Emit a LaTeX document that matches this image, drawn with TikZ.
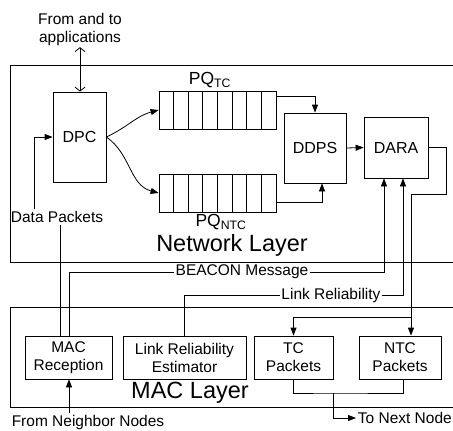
\documentclass[tikz,border=0pt]{standalone}
\usepackage{fontspec}
\setmainfont{Liberation Sans}
\usetikzlibrary{arrows.meta}

\begin{document}
\begin{tikzpicture}[x=1pt,y=-1pt,line width=0.8pt,
  box/.style={draw,inner sep=0pt,align=center,font=\fontsize{16}{18}\selectfont},
  lbl/.style={inner sep=1.5pt,align=center,font=\fontsize{15.5}{18}\selectfont},
  layer/.style={inner sep=0pt,font=\fontsize{23.5}{26}\selectfont},
  arr/.style={-{Triangle[length=8pt,width=6pt]}}]
\useasboundingbox (0,0) rectangle (453,431);
\clip (0,0) rectangle (453,431);
% layers
\draw (10,65) rectangle (470,262);
\draw (10,307) rectangle (470,407);
\node[layer] (netname) at (232,245) {Network Layer};
\node[layer] (macname) at (190,393) {MAC Layer};
% network layer blocks
\node[box,minimum width=53pt,minimum height=90pt] (dpc) at (79.5,137) {DPC};
\node[draw,inner sep=0pt,minimum width=117pt,minimum height=38pt] (pqtc) at (217.5,110) {};
\node[draw,inner sep=0pt,minimum width=117pt,minimum height=38pt] (pqntc) at (217.5,193) {};
\foreach \i in {1,...,7} {
  \draw (159+\i*14.625,91) -- (159+\i*14.625,129);
  \draw (159+\i*14.625,174) -- (159+\i*14.625,212);
}
\node[lbl,font=\fontsize{17.5}{20}\selectfont] (tclbl) at (210,80) {PQ\textsubscript{TC}};
\node[lbl,font=\fontsize{17.5}{20}\selectfont] (ntclbl) at (221,222) {PQ\textsubscript{NTC}};
\node[box,minimum width=62pt,minimum height=70pt] (ddps) at (315,148) {DDPS};
\node[box,minimum width=64pt,minimum height=61pt] (dara) at (396,147.5) {DARA};
% mac layer blocks
\node[box,minimum width=87pt,minimum height=43pt,font=\fontsize{15.5}{18}\selectfont] (macrx) at (68.5,357.5) {MAC\\Reception};
\node[box,minimum width=123pt,minimum height=43pt,font=\fontsize{15.5}{18}\selectfont] (lre) at (184.5,357.5) {Link Reliability\\Estimator};
\node[box,minimum width=79pt,minimum height=43pt,font=\fontsize{15.5}{18}\selectfont] (tcp) at (293.5,357.5) {TC\\Packets};
\node[box,minimum width=82pt,minimum height=43pt,font=\fontsize{15.5}{18}\selectfont] (ntc) at (400,357.5) {NTC\\Packets};
% labels
\node[lbl] (apps) at (80,29) {From and to\\applications};
\node[lbl] (datapk) at (57,217) {Data Packets};
\node[lbl] (beacon) at (242,272) {BEACON Message};
\node[lbl] (linkrel) at (331,295) {Link Reliability};
\node[lbl] (neigh) at (88,422) {From Neighbor Nodes};
\node[lbl,anchor=west] (nextnode) at (356,418) {To Next Node};
\coordinate (split) at (411,317);
\coordinate (join) at (333,393);
% connectors
\draw[{Straight Barb[length=4pt,width=10pt]}-{Straight Barb[length=4pt,width=10pt]}] (apps.south) -- (apps.south |- dpc.north);
\draw[arr] (dpc.east) to[out=25,in=195] (pqtc.west);
\draw[arr] (dpc.east) to[out=-35,in=165] (pqntc.west);
\draw[arr] ([yshift=14pt]pqtc.east) -| (ddps.north);
\draw[arr] ([yshift=-9pt]pqntc.east) -| ([xshift=7pt]ddps.south);
\draw[arr] (ddps.east) -- (dara.west);
\draw[arr] ([xshift=-23pt]datapk.north) |- (dpc.west);
\draw ([xshift=-8.5pt]macrx.north) -- ([xshift=-8.5pt]macrx.north |- datapk.south);
\draw ([xshift=0.5pt]macrx.north) |- (beacon.west);
\draw[arr] (beacon.east) -| ([xshift=-12pt]dara.south);
\draw (lre.north) |- (linkrel.west);
\draw[arr] (linkrel.east) -| ([xshift=7pt]dara.south);
\draw (dara.east) -| ++(18,47) -| (split);
\draw[arr] (split) -- (split |- ntc.north);
\draw[arr] (split) -| (tcp.north);
\draw (tcp.south) |- (join) -| ([xshift=3pt]ntc.south);
\draw[arr] (join) |- (nextnode.west);
\draw[arr] ([xshift=0.5pt]macrx.south |- neigh.north) -- ([xshift=0.5pt]macrx.south);
\end{tikzpicture}
\end{document}
